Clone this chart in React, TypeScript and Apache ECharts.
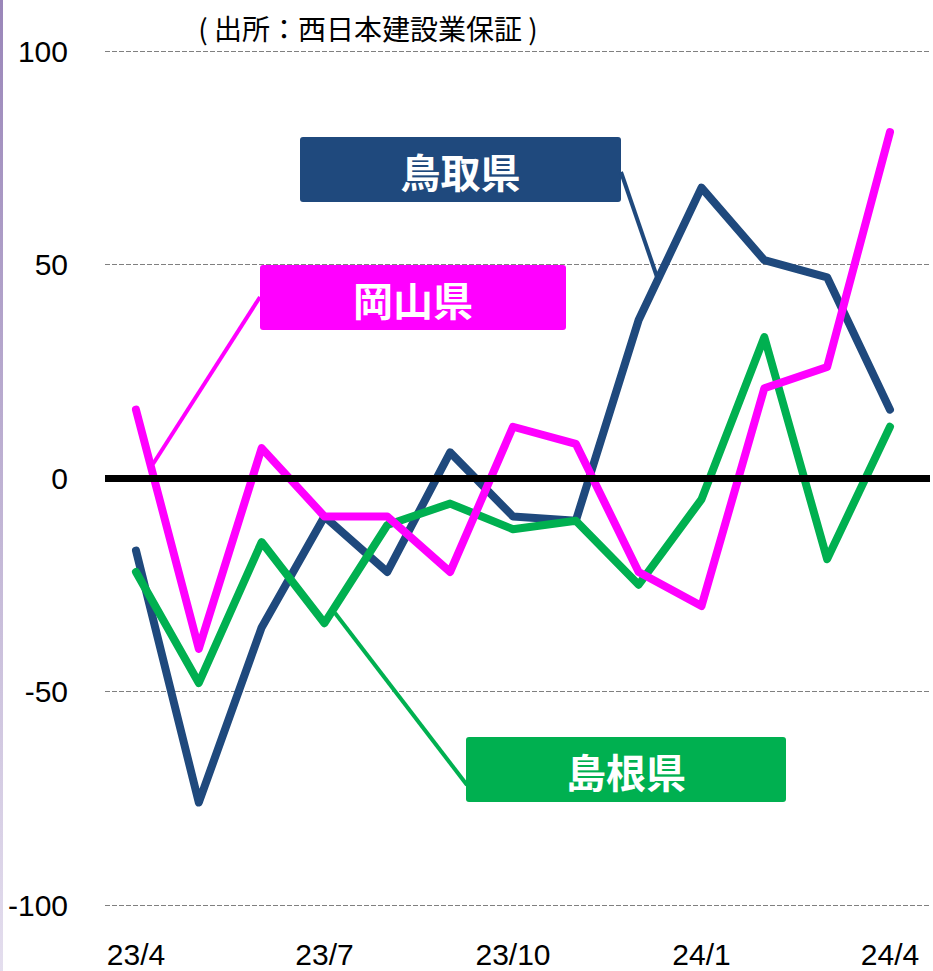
import React, { useEffect, useRef } from "react";
import * as echarts from "echarts";

const categories = ["23/4", "23/5", "23/6", "23/7", "23/8", "23/9", "23/10", "23/11", "23/12", "24/1", "24/2", "24/3", "24/4"];
const labelIndexes = [0, 3, 6, 9, 12];
const tottori = [-17, -76, -35, -9, -22, 6, -9, -10, 37, 68, 51, 47, 16];
const okayama = [16, -40, 7, -9, -9, -22, 12, 8, -22, -30, 21, 26, 81];
const shimane = [-22, -48, -15, -34, -11, -6, -12, -10, -25, -5, 33, -19, 12];
const yTicks = [-100, -50, 0, 50, 100];

const BLUE = "#1F497D";
const MAGENTA = "#FF00FF";
const GREEN = "#00B050";
const SANS = "'Liberation Sans', Arial, sans-serif";
const CJK = "'Noto Sans CJK JP', 'Noto Sans', sans-serif";

const toPairs = (arr: number[]) => arr.map((v, i) => [i, v]);

export default function App() {
  const ref = useRef<HTMLDivElement>(null);
  useEffect(() => {
    document.body.style.margin = "0";
    const chart = echarts.init(ref.current!, null, { renderer: "svg" });
    const lineSeries = (name: string, color: string, data: number[], z: number) => ({
      name,
      type: "line",
      data: toPairs(data),
      symbol: "none",
      z,
      lineStyle: { color, width: 8, cap: "round", join: "round" },
      itemStyle: { color },
    });
    const box = (x: number, y: number, w: number, h: number, color: string, text: string) => ({
      type: "group",
      children: [
        { type: "rect", shape: { x, y, width: w, height: h, r: 3 }, style: { fill: color } },
        {
          type: "text",
          x: x + w / 2,
          y: y + h / 2 + 1,
          style: { text, fill: "#fff", font: `bold 40px ${CJK}`, align: "center", verticalAlign: "middle" },
        },
      ],
    });
    chart.setOption({
      animation: false,
      backgroundColor: "#fff",
      grid: { left: 105, right: 3, top: 51, bottom: 66, containLabel: false },
      xAxis: {
        type: "value",
        min: -0.493,
        max: 12.637,
        axisLine: { show: false },
        axisTick: { show: false },
        splitLine: { show: false },
        axisLabel: {
          customValues: labelIndexes,
          formatter: (v: number) => categories[Math.round(v)] ?? "",
          fontSize: 30,
          fontFamily: SANS,
          color: "#000",
          margin: 34,
        },
      },
      yAxis: {
        type: "value",
        min: yTicks[0],
        max: yTicks[yTicks.length - 1],
        interval: 50,
        axisLine: { show: false },
        axisTick: { show: false },
        axisLabel: { fontSize: 30, fontFamily: SANS, color: "#000", margin: 37 },
        splitLine: { show: true, lineStyle: { color: "#808080", width: 1, type: [5, 2] } },
      },
      series: [
        lineSeries("鳥取県", BLUE, tottori, 2),
        lineSeries("島根県", GREEN, shimane, 3),
        lineSeries("岡山県", MAGENTA, okayama, 4),
        {
          type: "line",
          data: [],
          z: 10,
          markLine: {
            silent: true,
            symbol: ["none", "none"],
            label: { show: false },
            lineStyle: { color: "#000", width: 7, type: "solid" },
            data: [{ yAxis: 0 }],
          },
        },
      ],
      graphic: [
        {
          type: "rect",
          shape: { x: 0, y: 0, width: 3, height: 971 },
          style: {
            fill: new echarts.graphic.LinearGradient(0, 0, 0, 1, [
              { offset: 0, color: "#9A86B9" },
              { offset: 1, color: "#E4DEEE" },
            ]),
          },
        },
        {
          type: "text",
          x: 368,
          y: 28,
          style: { text: "( 出所：西日本建設業保証 )", fill: "#000", font: `28px ${CJK}`, align: "center", verticalAlign: "middle" },
        },
        { type: "line", shape: { x1: 621, y1: 172, x2: 657, y2: 277 }, style: { stroke: BLUE, lineWidth: 4 }, z: 20 },
        { type: "line", shape: { x1: 260, y1: 297, x2: 153, y2: 464 }, style: { stroke: MAGENTA, lineWidth: 4 }, z: 20 },
        { type: "line", shape: { x1: 335, y1: 613, x2: 467, y2: 785 }, style: { stroke: GREEN, lineWidth: 4 }, z: 20 },
        { ...box(300, 137, 321, 65, BLUE, "鳥取県"), z: 21 },
        { ...box(260, 265, 306, 65, MAGENTA, "岡山県"), z: 21 },
        { ...box(466, 737, 320, 65, GREEN, "島根県"), z: 21 },
      ],
    });
    return () => chart.dispose();
  }, []);
  return <div ref={ref} style={{ width: 933, height: 971, position: "fixed", left: 0, top: 0 }} />;
}
